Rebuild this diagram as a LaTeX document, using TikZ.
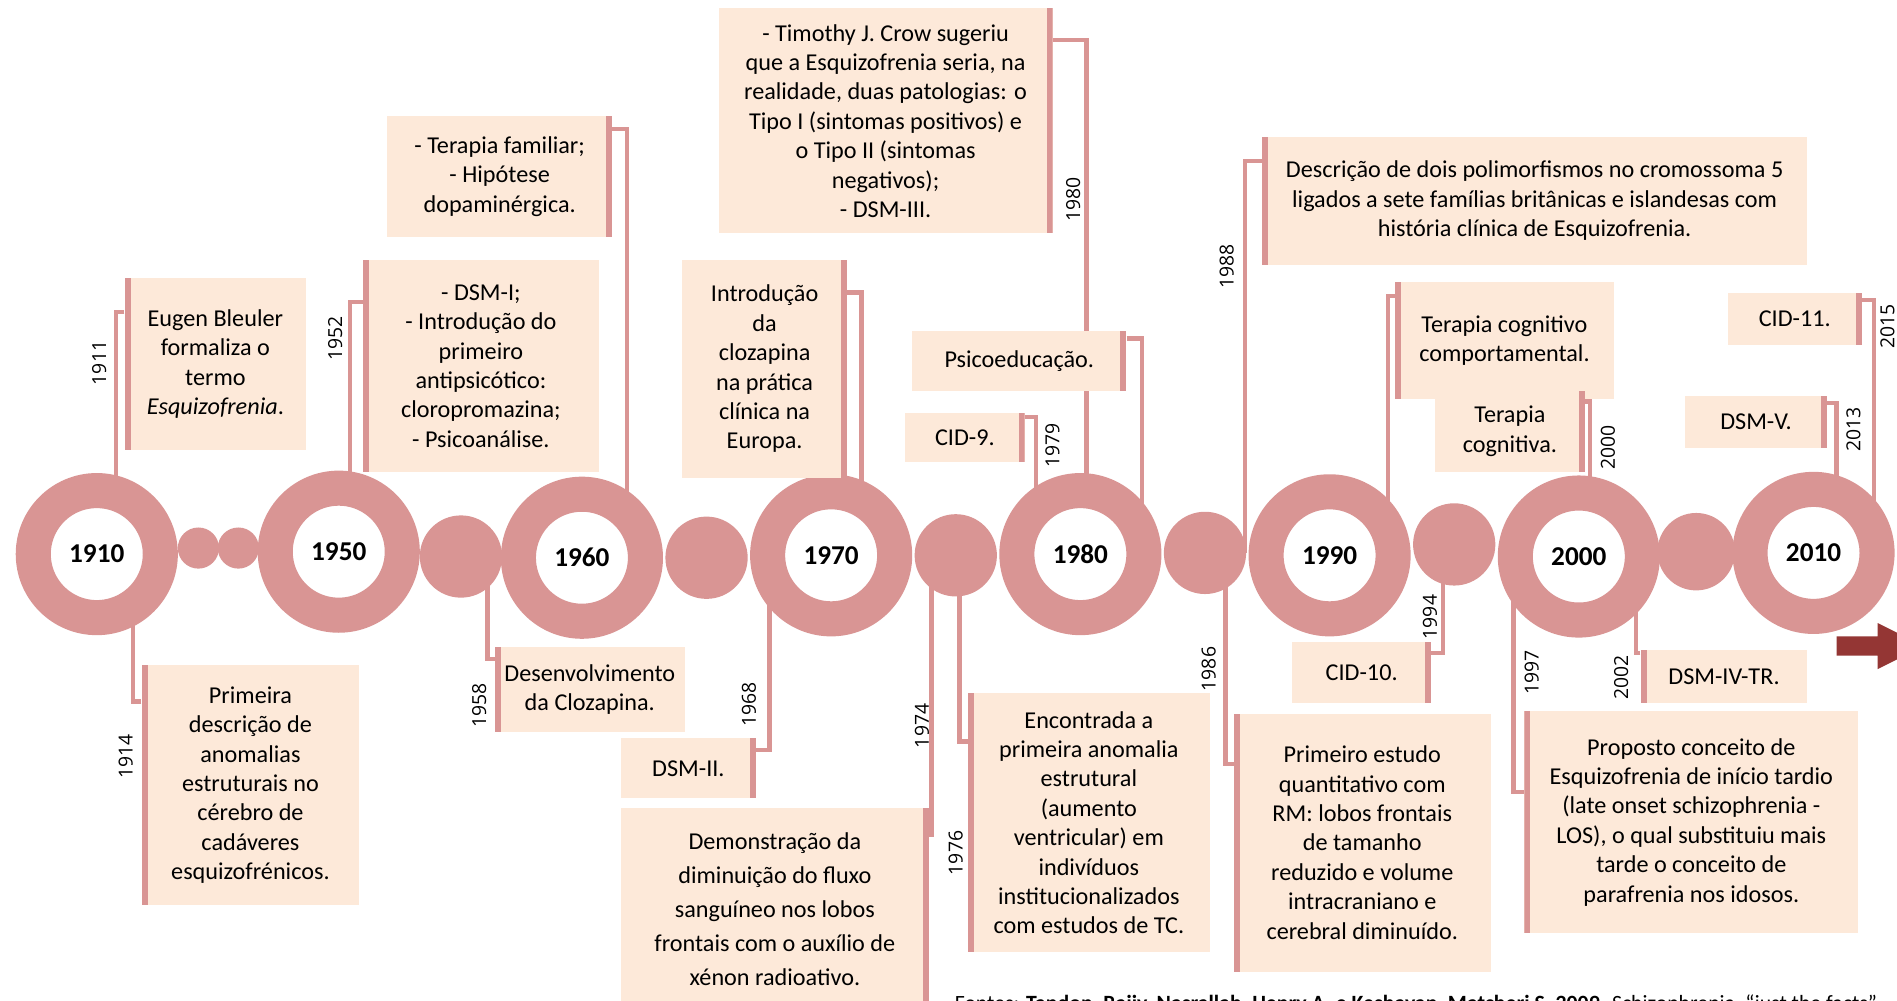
\documentclass[tikz,border=0pt]{standalone}
\usepackage{fontspec}
\setmainfont{Carlito}
\newfontfamily\yearfont{Open Sans}
\usetikzlibrary{backgrounds}
\definecolor{ringpink}{HTML}{D99594}
\definecolor{boxfill}{HTML}{FDE9D9}
\definecolor{arrowred}{HTML}{943634}
\tikzstyle{ring}=[circle, draw=ringpink, fill=white, line width=29pt, inner sep=0pt, minimum size=105pt, font=\fontsize{22.5}{27}\selectfont\bfseries]
\tikzstyle{bead}=[circle, fill=ringpink, inner sep=0pt]
\tikzstyle{box}=[fill=boxfill, inner sep=0pt, align=center, font=\fontsize{20}{24.3}\selectfont]
\tikzstyle{lbox}=[box, path picture={\fill[ringpink] (path picture bounding box.north west) rectangle ([xshift=5pt]path picture bounding box.south west);}]
\tikzstyle{rbox}=[box, path picture={\fill[ringpink] ([xshift=-5pt]path picture bounding box.north east) rectangle (path picture bounding box.south east);}]
\tikzstyle{link}=[draw=ringpink, line width=3.5pt]
\tikzstyle{year}=[rotate=90, inner sep=0pt, font=\yearfont\fontsize{16}{16}\selectfont]
\newcommand{\ring}{\node[ring]}
\newcommand{\bead}[1]{\node[bead, minimum size=#1]}

\begin{document}
\begin{tikzpicture}[x=1pt, y=-1pt]
\useasboundingbox (0,0) rectangle (1568,827);

% linha do tempo
\ring (r1910) at (80,458) {1910};
\ring (r1950) at (280,456) {1950};
\ring (r1960) at (481,461) {1960};
\ring (r1970) at (687,459) {1970};
\ring (r1980) at (893,458) {1980};
\ring (r1990) at (1099,459) {1990};
\ring (r2000) at (1305,460) {2000};
\ring (r2010) at (1499,457) {2010};
\bead{34pt} (s1930a) at (164,453) {};
\bead{34pt} (s1930b) at (197,453) {};
\bead{68pt} (s1955) at (381,460) {};
\bead{68pt} (s1965) at (584,461) {};
\bead{68pt} (s1975) at (790,459) {};
\bead{68pt} (s1985) at (996,457) {};
\bead{68pt} (s1995) at (1202,450) {};
\bead{64pt} (s2005) at (1402,456) {};
\fill[arrowred] (1518,526) -- (1552,526) -- (1552,515) -- (1590,534) -- (1552,553) -- (1552,542) -- (1518,542) -- cycle;

% caixas de cima
\node[lbox, minimum width=150pt, minimum height=142pt] (b1911) at (178,301)
  {Eugen Bleuler\\formaliza o\\termo\\\textit{Esquizofrenia}.};
\node[lbox, minimum width=195pt, minimum height=175pt] (b1952) at (397.5,302.5)
  {- DSM-I;\\- Introdução do\\primeiro\\antipsicótico:\\cloropromazina;\\- Psicoanálise.};
\node[rbox, minimum width=186pt, minimum height=100pt] (bfam) at (413,146)
  {- Terapia familiar;\\- Hipótese\\dopaminérgica.};
\node[rbox, minimum width=136pt, minimum height=180pt] (bcloz) at (632,305)
  {Introdução\\da\\clozapina\\na prática\\clínica na\\Europa.};
\node[rbox, minimum width=276pt, minimum height=186pt] (b1980) at (732,100)
  {- Timothy J. Crow sugeriu\\que a Esquizofrenia seria, na\\realidade, duas patologias: o\\Tipo I (sintomas positivos) e\\o Tipo II (sintomas\\negativos);\\- DSM-III.};
\node[rbox, minimum width=177pt, minimum height=49pt] (bpsi) at (842.5,298.5) {Psicoeducação.};
\node[rbox, minimum width=99pt, minimum height=41pt] (b1979) at (797.5,361.5) {CID-9.};
\node[lbox, minimum width=451pt, minimum height=106pt] (b1988) at (1268.5,166)
  {Descrição de dois polimorfismos no cromossoma 5\\ligados a sete famílias britânicas e islandesas com\\história clínica de Esquizofrenia.};
\node[lbox, minimum width=181pt, minimum height=97pt] (btcc) at (1243.5,281.5)
  {Terapia cognitivo\\comportamental.};
\node[rbox, minimum width=124pt, minimum height=67pt] (b2000) at (1248,356.5)
  {Terapia\\cognitiva.};
\node[rbox, minimum width=111pt, minimum height=43pt] (b2015) at (1483.5,263.5) {CID-11.};
\node[rbox, minimum width=117pt, minimum height=43pt] (b2013) at (1451.5,348.5) {DSM-V.};

% caixas de baixo
\node[lbox, minimum width=180pt, minimum height=198pt] (b1914) at (207,649)
  {Primeira\\descrição de\\anomalias\\estruturais no\\cérebro de\\cadáveres\\esquizofrénicos.};
\node[lbox, minimum width=157pt, minimum height=70pt] (b1958) at (487.5,570)
  {Desenvolvimento\\da Clozapina.};
\node[rbox, minimum width=112pt, minimum height=50pt] (b1968) at (569,635) {DSM-II.};
\node[rbox, minimum width=255pt, minimum height=167pt, font=\fontsize{20}{28}\selectfont] (b1974) at (640.5,751.5)
  {Demonstração da\\diminuição do fluxo\\sanguíneo nos lobos\\frontais com o auxílio de\\xénon radioativo.};
\node[lbox, minimum width=200pt, minimum height=214pt] (b1976) at (900,680)
  {Encontrada a\\primeira anomalia\\estrutural\\(aumento\\ventricular) em\\indivíduos\\institucionalizados\\com estudos de TC.};
\node[rbox, minimum width=115pt, minimum height=50pt] (b1994) at (1125.5,556) {CID-10.};
\node[lbox, minimum width=212pt, minimum height=213pt] (b1986) at (1126,696.5)
  {Primeiro estudo\\quantitativo com\\RM: lobos frontais\\de tamanho\\reduzido e volume\\intracraniano e\\cerebral diminuído.};
\node[lbox, minimum width=138pt, minimum height=44pt] (b2002) at (1425,559) {DSM-IV-TR.};
\node[lbox, minimum width=276pt, minimum height=183pt] (b1997) at (1398,679.5)
  {Proposto conceito de\\Esquizofrenia de início tardio\\(late onset schizophrenia -\\LOS), o qual substituiu mais\\tarde o conceito de\\parafrenia nos idosos.};

% anos
\node[year] (y1911) at (82,300) {1911};
\node[year] (y1952) at (277,280) {1952};
\node[year] (y1980) at (887,165) {1980};
\node[year] (y1979) at (870,368) {1979};
\node[year] (y1988) at (1014,220) {1988};
\node[year] (y2000) at (1329,370) {2000};
\node[year] (y2015) at (1560,270) {2015};
\node[year] (y2013) at (1532,355) {2013};
\node[year] (y1914) at (104,625) {1914};
\node[year] (y1958) at (396,583) {1958};
\node[year] (y1968) at (619,582) {1968};
\node[year] (y1974) at (762,600) {1974};
\node[year] (y1976) at (790,705) {1976};
\node[year] (y1986) at (999,553) {1986};
\node[year] (y1994) at (1182,510) {1994};
\node[year] (y2002) at (1340,560) {2002};
\node[year] (y1997) at (1266,556) {1997};

\node[anchor=base west, inner sep=0pt, font=\fontsize{18}{20}\selectfont] (fonte) at (789,835)
  {Fontes: \textbf{Tandon, Rajiv, Nasrallah, Henry A. e Keshavan, Matcheri S. 2009.} Schizophrenia, “just the facts”};

% ligações
\begin{scope}[on background layer]
\draw[link] ([yshift=-28pt]b1911.north west) -| ([xshift=16pt]r1910.center);
\draw[link] ([yshift=-35pt]b1952.north west) -| ([xshift=9pt]r1950.center);
\draw[link] ([yshift=-11pt]bfam.north east) -| ([xshift=37pt]r1960.center);
\draw[link] ([yshift=-27pt]bcloz.north east) -| ([xshift=25pt]r1970.center);
\draw[link] ([yshift=-26pt]b1980.north east) -| ([xshift=5pt]r1980.center);
\draw[link] ([yshift=-6pt]bpsi.north east) -| ([xshift=51pt]r1980.center);
\draw[link] ([yshift=-4pt]b1979.north east) -| ([xshift=-37pt]r1980.center);
\draw[link] ([yshift=-20pt]b1988.north west) -| ([xshift=33pt]s1985.center);
\draw[link] ([yshift=-12pt]btcc.north west) -| ([xshift=48pt]r1990.center);
\draw[link] ([yshift=-9pt]b2000.north east) -| ([xshift=9pt]r2000.center);
\draw[link] ([yshift=-6pt]b2015.north east) -| ([xshift=50pt]r2010.center);
\draw[link] ([yshift=-6pt]b2013.north east) -| ([xshift=19pt]r2010.center);
\draw[link] ([yshift=-30pt]b1914.north west) -| ([xshift=30pt]r1910.center);
\draw[link] ([yshift=-10pt]b1958.north west) -| ([xshift=22pt]s1955.center);
\draw[link] ([yshift=-10pt]b1968.north east) -| ([xshift=-51pt]r1970.center);
\draw[link] ([yshift=-22pt]b1974.north east) -| ([xshift=-20pt]s1975.center);
\draw[link] ([yshift=-40pt]b1976.north west) -| ([xshift=3pt]s1975.center);
\draw[link] ([yshift=-9pt]b1994.north east) -| ([xshift=-9pt]s1995.center);
\draw[link] ([yshift=-42pt]b1986.north west) -| ([xshift=17pt]s1985.center);
\draw[link] ([yshift=-3pt]b2002.north west) -| ([xshift=47pt]r2000.center);
\draw[link] ([yshift=-67pt]b1997.north west) -| ([xshift=-54pt]r2000.center);
\end{scope}
\end{tikzpicture}
\end{document}
